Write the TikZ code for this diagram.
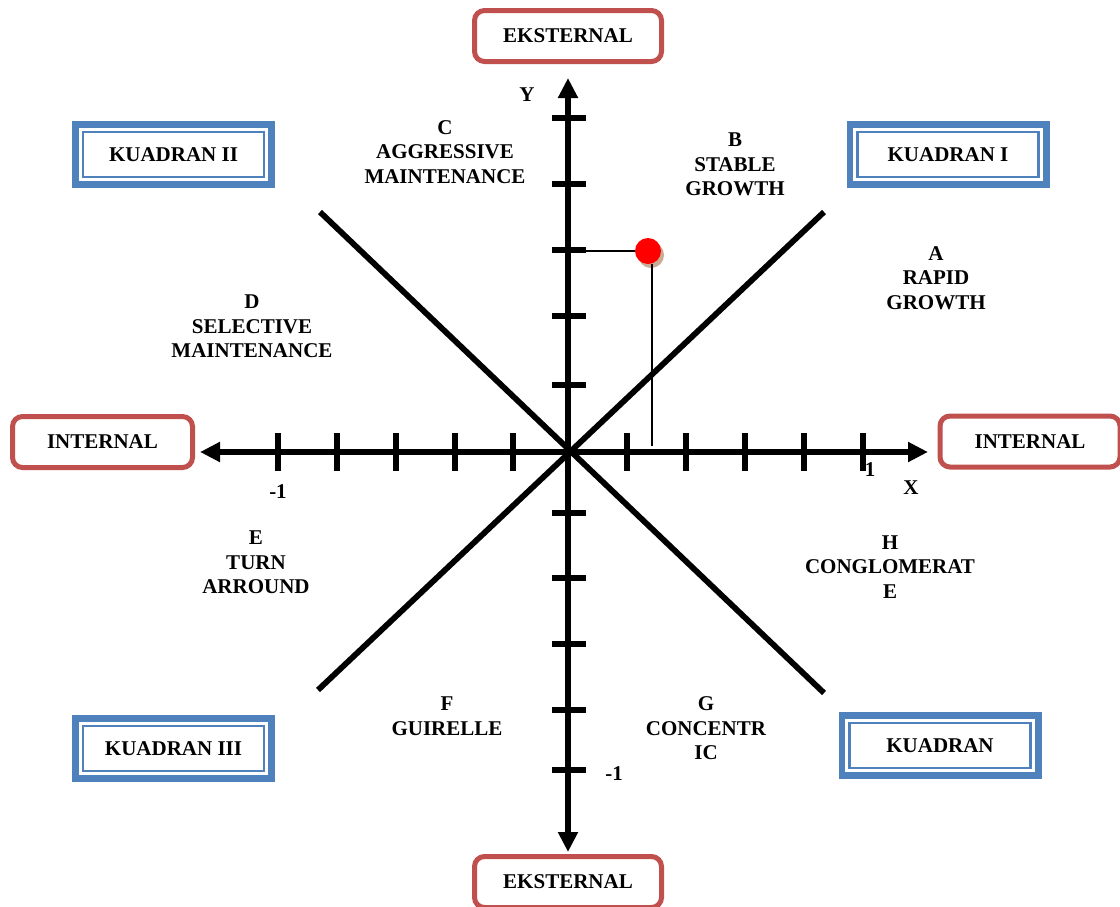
\documentclass[tikz,border=0pt]{standalone}
\usepackage{fontspec}
\setmainfont{Liberation Serif}
\usetikzlibrary{arrows.meta}
\definecolor{boxred}{HTML}{C0504D}
\definecolor{boxblue}{HTML}{4F81BD}
\definecolor{dotshadow}{RGB}{190,150,120}
\begin{document}
\begin{tikzpicture}[x=0.5pt,y=-0.5pt,
  font=\fontsize{10.5}{12.25}\selectfont\bfseries,
  redbox/.style={draw=boxred, line width=2.5pt, rounded corners=5pt, fill=white,
    minimum width=93.5pt, minimum height=25.5pt, inner sep=0pt},
  bluebox/.style={draw=boxblue, line width=3.3pt, fill=white,
    minimum width=98.2pt, minimum height=30.2pt, inner sep=0pt},
  innerline/.style={draw=boxblue, line width=1.1pt},
  axisline/.style={line width=3pt, {Triangle[length=10pt,width=9.5pt]}-{Triangle[length=10pt,width=9.5pt]}},
  diag/.style={line width=2.9pt},
  tick/.style={line width=2.8pt},
  guide/.style={line width=0.6pt},
  lbl/.style={align=center, inner sep=0pt}
]
\useasboundingbox (0,0) rectangle (1120,906);

% axes
\coordinate (O) at (568,452);
\coordinate (xl) at (200,452);
\coordinate (xr) at (928,452);
\coordinate (yt) at (568,78);
\coordinate (yb) at (568,852);
\coordinate (d1a) at (320,212);
\coordinate (d1b) at (824,693);
\coordinate (d2a) at (318,690);
\coordinate (d2b) at (824,212);

\draw[diag] (d1a) -- (d1b);
\draw[diag] (d2a) -- (d2b);
\draw[axisline] (xl) -- (xr);
\draw[axisline] (yb) -- (yt);

\foreach \x in {278,337,396,455,513,627,686,745,804,863}
  \draw[tick] (\x,433) -- (\x,471);
\foreach \y in {118,184,250,316,385,513,578,644,710,770}
  \draw[tick] (552,\y) -- (586,\y);

% point
\coordinate (ty) at (586,251);
\coordinate (tx) at (652,446);
\fill[dotshadow, opacity=0.8] (651,255) circle[radius=13];
\node[circle, fill=red, minimum size=13pt, inner sep=0pt] (pt) at (648,251) {};
\draw[guide] (ty) -- (pt.west);
\draw[guide] (pt.south -| tx) -- (tx);

% axis labels
\node[lbl] (ylab) at (527,95) {Y};
\node[lbl] (xlab) at (911,488) {X};
\node[lbl] (x1) at (870,470) {1};
\node[lbl] (xm1) at (278,492) {-1};
\node[lbl] (ym1) at (614,774) {-1};

% strategy labels
\node[lbl] (C) at (445,152) {C\\AGGRESSIVE\\MAINTENANCE};
\node[lbl] (B) at (735,164.5) {B\\STABLE\\GROWTH};
\node[lbl] (A) at (936,278) {A\\RAPID\\GROWTH};
\node[lbl] (D) at (252,326.5) {D\\SELECTIVE\\MAINTENANCE};
\node[lbl] (E) at (256,562.5) {E\\TURN\\ARROUND};
\node[lbl] (H) at (890,567) {H\\CONGLOMERAT\\E};
\node[lbl] (F) at (447,716) {F\\GUIRELLE};
\node[lbl] (G) at (706,728.5) {G\\CONCENTR\\IC};

% red boxes
\node[redbox] (ekt) at (568,36) {EKSTERNAL};
\node[redbox] (ekb) at (568,882) {EKSTERNAL};
\node[redbox, minimum width=90pt] (inl) at (102.5,442) {INTERNAL};
\node[redbox, minimum width=90pt] (inr) at (1030,441.5) {INTERNAL};

% blue boxes
\foreach \nm/\px/\py/\txt in {k2/173.5/154.5/KUADRAN II, k1/948/154.5/KUADRAN I, k3/173.5/748.5/KUADRAN III, k4/940/745.5/KUADRAN}{
  \node[bluebox] (\nm) at (\px,\py) {\txt};
  \draw[innerline] ([shift={(11,11)}]\nm.north west) rectangle ([shift={(-11,-11)}]\nm.south east);
}
\end{tikzpicture}
\end{document}
